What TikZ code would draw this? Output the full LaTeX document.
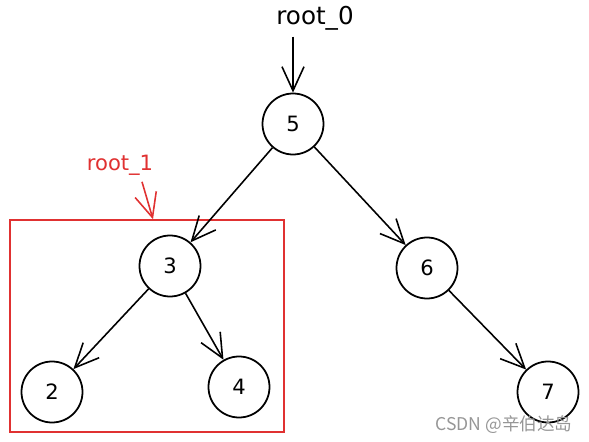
\documentclass[tikz,border=0pt]{standalone}
\usepackage{fontspec}
\setmainfont{DejaVu Sans}
\newfontfamily\cjk{Noto Sans CJK SC}
\usetikzlibrary{arrows.meta, positioning}
\tikzset{>={Straight Barb[length=4.8mm,width=4.4mm]}}
\definecolor{boxred}{RGB}{224,49,49}
\definecolor{markgray}{RGB}{150,150,150}
\tikzset{
	treenode/.style = {draw, circle, line width=1pt, minimum size=1.22cm, font=\large},
	rootlabel/.style = {font=\fontsize{14}{16}\selectfont}
}

\begin{document}
\begin{tikzpicture}[on grid, line width=0.9pt]
		\useasboundingbox (0,0) rectangle (11.78,-8.84);
		\node (n5) [treenode] at (5.86,-2.48) {5};
		\node (n3) [treenode, below left = 2.84cm and 2.46cm of n5] {3};
		\node (n6) [treenode, below right = 2.88cm and 2.68cm of n5] {6};
		\node (n2) [treenode, below left = 2.52cm and 2.36cm of n3] {2};
		\node (n4) [treenode, below right = 2.42cm and 1.38cm of n3] {4};
		\node (n7) [treenode, below right = 2.48cm and 2.42cm of n6] {7};
		\node (r0) [rootlabel] at (6.30,-0.36) {root\_0};
		\node (r1) [rootlabel, text=boxred, font=\fontsize{12}{14}\selectfont] at (2.40,-3.30) {root\_1};
		\node (box) [draw=boxred, line width=0.8pt, minimum width=5.48cm, minimum height=4.24cm] at (2.94,-6.52) {};
		\coordinate (r1tip) at ([xshift=0.12cm]box.north);
		\node (mark) [text=markgray, font=\cjk\fontsize{10}{12}\selectfont] at (10.08,-8.50) {CSDN @辛伯达岛};
		\path[->]
			(r0.south -| n5) edge (n5)
			(n5) edge (n3)
			(n5) edge (n6)
			(n3) edge (n2)
			(n3) edge (n4)
			(n6) edge (n7);
		\draw[->, boxred] ([xshift=0.44cm]r1.south) -- (r1tip);
	\end{tikzpicture}
\end{document}
